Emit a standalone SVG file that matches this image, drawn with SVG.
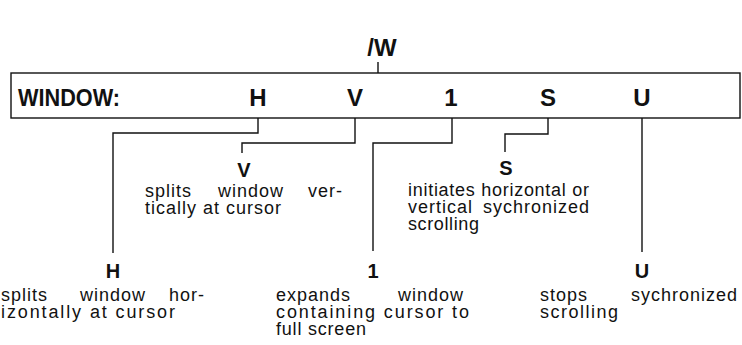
<svg xmlns="http://www.w3.org/2000/svg" width="742" height="345" viewBox="0 0 742 345">
<style>
.ln{fill:none;stroke:#111;stroke-width:1.4}
.big{font-family:"Liberation Sans",Arial,sans-serif;font-weight:bold;font-size:24px;fill:#111}
.mid{text-anchor:middle}
.lab{font-family:"Liberation Sans",Arial,sans-serif;font-weight:bold;font-size:20px;fill:#111;text-anchor:middle}
.tx{font-family:"Liberation Sans",Arial,sans-serif;font-size:18px;letter-spacing:1px;fill:#111}
.end{text-anchor:end}
</style>
<rect width="742" height="345" fill="#fff"/>
<g id="cmd">
<text class="big mid" x="382" y="56">/W</text>
</g>
<g id="bar">
<rect class="ln" x="11" y="73" width="729" height="45"/>
<text class="big" x="18" y="106" textLength="102" lengthAdjust="spacingAndGlyphs">WINDOW:</text>
<text class="big mid" x="258" y="106">H</text>
<text class="big mid" x="355" y="106">V</text>
<text class="big mid" x="451" y="106">1</text>
<text class="big mid" x="548" y="106">S</text>
<text class="big mid" x="642" y="106">U</text>
</g>
<g id="connectors">
<path class="ln" d="M378 62V73"/>
<path class="ln" d="M258 118V133H113V253"/>
<path class="ln" d="M355 118V143H242V153"/>
<path class="ln" d="M452 118V143H373V251"/>
<path class="ln" d="M548 118V134H505V152"/>
<path class="ln" d="M642 118V252"/>
</g>
<g id="node-v">
<text class="lab" x="244" y="177">V</text>
<text class="tx" y="197"><tspan x="145">splits</tspan><tspan x="218">window</tspan><tspan class="end" x="343">ver-</tspan></text>
<text class="tx" x="145" y="214" textLength="137" lengthAdjust="spacing">tically at cursor</text>
</g>
<g id="node-s">
<text class="lab" x="506" y="175">S</text>
<text class="tx" x="408" y="196" textLength="182" lengthAdjust="spacing">initiates horizontal or</text>
<text class="tx" y="213"><tspan x="408">vertical</tspan><tspan class="end" x="590">sychronized</tspan></text>
<text class="tx" x="408" y="230" textLength="72" lengthAdjust="spacing">scrolling</text>
</g>
<g id="node-h">
<text class="lab" x="113" y="278">H</text>
<text class="tx" y="301"><tspan x="1">splits</tspan><tspan x="80">window</tspan><tspan class="end" x="205">hor-</tspan></text>
<text class="tx" x="1" y="318" textLength="175" lengthAdjust="spacing">izontally at cursor</text>
</g>
<g id="node-1">
<text class="lab" x="373" y="278">1</text>
<text class="tx" y="301" letter-spacing="3"><tspan x="276">expands</tspan><tspan class="end" x="464">window</tspan></text>
<text class="tx" x="276" y="318" textLength="194" lengthAdjust="spacing">containing cursor to</text>
<text class="tx" x="276" y="335" textLength="91" lengthAdjust="spacing">full screen</text>
</g>
<g id="node-u">
<text class="lab" x="642" y="278">U</text>
<text class="tx" y="301"><tspan x="540">stops</tspan><tspan class="end" x="738">sychronized</tspan></text>
<text class="tx" x="540" y="318" textLength="79" lengthAdjust="spacing">scrolling</text>
</g>
</svg>
